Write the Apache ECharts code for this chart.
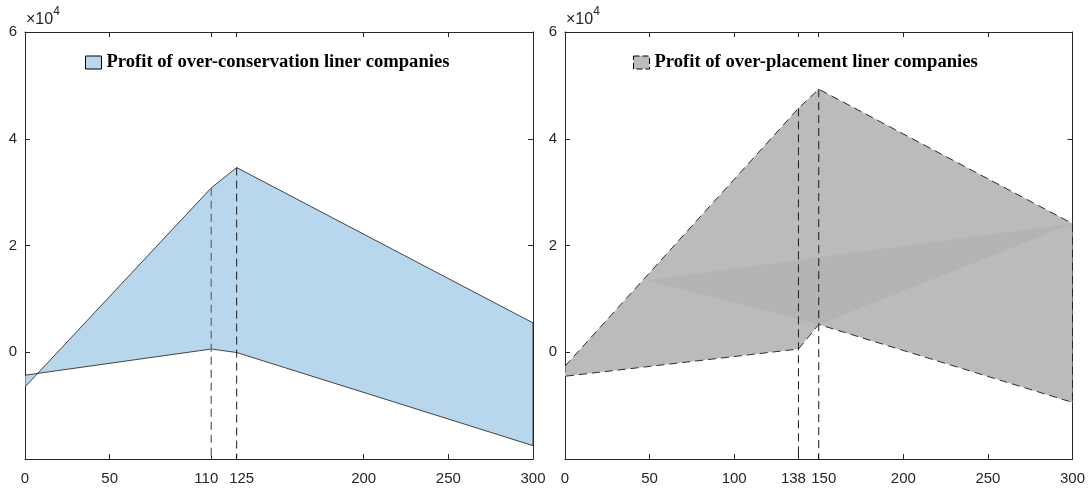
<!DOCTYPE html>
<html>
<head>
<meta charset="utf-8">
<script src="https://cdn.jsdelivr.net/npm/echarts@6/dist/echarts.min.js"></script>
<style>html,body{margin:0;padding:0;background:#fff}#c{width:1088px;height:488px}</style>
</head>
<body>
<div id="c"></div>
<script>
// ---- data ----
const xL = [0, 110, 125, 300];
const upperL = [-6500, 30800, 34600, 5500];
const lowerL = [-4300, 600, -50, -17500];

const xR = [0, 138, 150, 300];
const upperR = [-2600, 45700, 49300, 24100];
const lowerR = [-4500, 600, 5200, -9400];

// darker rendering band inside right fill
const shadeRX = [48, 150, 300];
const shadeRY = [13500, 5200, 24100];

const xTicksL = [0, 50, 110, 125, 200, 250, 300];
const xTicksR = [0, 50, 100, 138, 150, 200, 250, 300];
const yTicks = [0, 20000, 40000, 60000];
const yMin = -20000, yMax = 60000, xMin = 0, xMax = 300;

const nameL = 'Profit of over-conservation liner companies';
const nameR = 'Profit of over-placement liner companies';

// ---- helpers ----
function polyData(x, up, lo) {
  const pts = [];
  for (let i = 0; i < x.length; i++) pts.push([x[i], up[i]]);
  for (let i = x.length - 1; i >= 0; i--) pts.push([x[i], lo[i]]);
  return pts;
}
function polySeries(name, pts, xi, fill, stroke, dash, lw, z) {
  return {
    type: 'custom', name: name, xAxisIndex: xi, yAxisIndex: xi, silent: true, clip: true, z: z,
    data: pts,
    renderItem: function (params, api) {
      if (params.dataIndex !== 0) return null;
      const p = pts.map(d => api.coord(d));
      return {
        type: 'polygon', shape: { points: p },
        style: { fill: fill, stroke: stroke, lineWidth: lw, lineDash: dash }
      };
    }
  };
}
function vline(x, yTop, xi, color, lw) {
  return {
    type: 'line', xAxisIndex: xi, yAxisIndex: xi, silent: true, symbol: 'none',
    data: [[x, yTop], [x, yMin]],
    lineStyle: { color: color, width: lw, type: [8, 5] }, z: 5
  };
}
const axCol = '#262626';
const tickFont = { fontFamily: 'Liberation Sans', fontSize: 15, color: axCol };
function axLine() { return { onZero: false, lineStyle: { color: axCol, width: 1 } }; }
// close pairs of tick labels are nudged apart (left one left, right one right)
function xAxisPair(gi, ticks, leftOf, rightOf) {
  return [
    { type: 'value', gridIndex: gi, min: xMin, max: xMax, position: 'bottom',
      axisLine: axLine(),
      axisTick: { inside: true, length: 5, customValues: ticks, lineStyle: { color: axCol } },
      axisLabel: Object.assign({ customValues: ticks, margin: 12,
        formatter: v => v === leftOf ? '{l|' + v + '}' : (v === rightOf ? '{r|' + v + '}' : String(v)),
        rich: { l: { fontFamily: 'Liberation Sans', fontSize: 15, color: axCol, padding: [0, 10, 0, 0] },
                r: { fontFamily: 'Liberation Sans', fontSize: 15, color: axCol, padding: [0, 0, 0, 10] } } }, tickFont),
      splitLine: { show: false } },
    { type: 'value', gridIndex: gi, min: xMin, max: xMax, position: 'top',
      axisLine: axLine(),
      axisTick: { inside: true, length: 5, customValues: ticks, lineStyle: { color: axCol } },
      axisLabel: { show: false }, splitLine: { show: false } }
  ];
}
function yAxisPair(gi) {
  return [
    { type: 'value', gridIndex: gi, min: yMin, max: yMax, position: 'left',
      name: '{a|×10}{b|4}', nameLocation: 'end', nameGap: 4,
      nameTextStyle: { align: 'left', fontSize: 15, fontFamily: 'Liberation Sans', padding: [0, 0, 0, 1], color: axCol,
        rich: { a: { fontFamily: 'Liberation Sans', fontSize: 16, color: axCol, verticalAlign: 'bottom', lineHeight: 22 },
                b: { fontFamily: 'Liberation Sans', fontSize: 12, color: axCol, verticalAlign: 'top', lineHeight: 22 } } },
      axisLine: axLine(),
      axisTick: { inside: true, length: 5, customValues: yTicks, lineStyle: { color: axCol } },
      axisLabel: Object.assign({ customValues: yTicks, margin: 8, formatter: v => String(v / 10000) }, tickFont),
      splitLine: { show: false } },
    { type: 'value', gridIndex: gi, min: yMin, max: yMax, position: 'right',
      axisLine: axLine(),
      axisTick: { inside: true, length: 5, customValues: yTicks, lineStyle: { color: axCol } },
      axisLabel: { show: false }, splitLine: { show: false } }
  ];
}

const fillL = '#b8d6ec', fillR = '#bbbbbb', shadeR = '#b4b4b4';
const legendText = { fontFamily: 'Liberation Serif', fontWeight: 'bold', fontSize: 18.6, color: '#000' };

const option = {
  animation: false,
  backgroundColor: '#fff',
  grid: [
    { left: 25, top: 32, width: 508, height: 427 },
    { left: 565, top: 32, width: 508, height: 427 }
  ],
  xAxis: [].concat(xAxisPair(0, xTicksL, 110, 125), xAxisPair(1, xTicksR, 138, 150)),
  yAxis: [].concat(yAxisPair(0), yAxisPair(1)),
  legend: [
    { left: 85, top: 53, padding: 0, itemWidth: 16, itemHeight: 13, selectedMode: false, textStyle: legendText,
      data: [{ name: nameL, icon: 'rect', itemStyle: { color: fillL, borderColor: '#000', borderWidth: 1 } }] },
    { left: 633, top: 53, padding: 0, itemWidth: 16, itemHeight: 13, selectedMode: false, textStyle: legendText,
      data: [{ name: nameR, icon: 'rect', itemStyle: { color: fillR, borderColor: '#000', borderWidth: 1, borderType: [6, 3] } }] }
  ],
  series: [
    polySeries(nameL, polyData(xL, upperL, lowerL), 0, fillL, '#1a1a1a', null, 0.8, 1),
    vline(xL[1], upperL[1], 0, '#7a7a7a', 1.5),
    vline(xL[2], upperL[2], 0, '#1a1a1a', 1),
    polySeries(nameR, polyData(xR, upperR, lowerR), 2, fillR, '#1a1a1a', [8, 5], 0.9, 1),
    polySeries('shade', shadeRX.map((x, i) => [x, shadeRY[i]]), 2, shadeR, null, null, 0, 2),
    vline(xR[1], upperR[1], 2, '#1a1a1a', 1),
    vline(xR[2], upperR[2], 2, '#1a1a1a', 1)
  ]
};
echarts.init(document.getElementById('c'), null, { renderer: 'canvas' }).setOption(option);
</script>
</body>
</html>
